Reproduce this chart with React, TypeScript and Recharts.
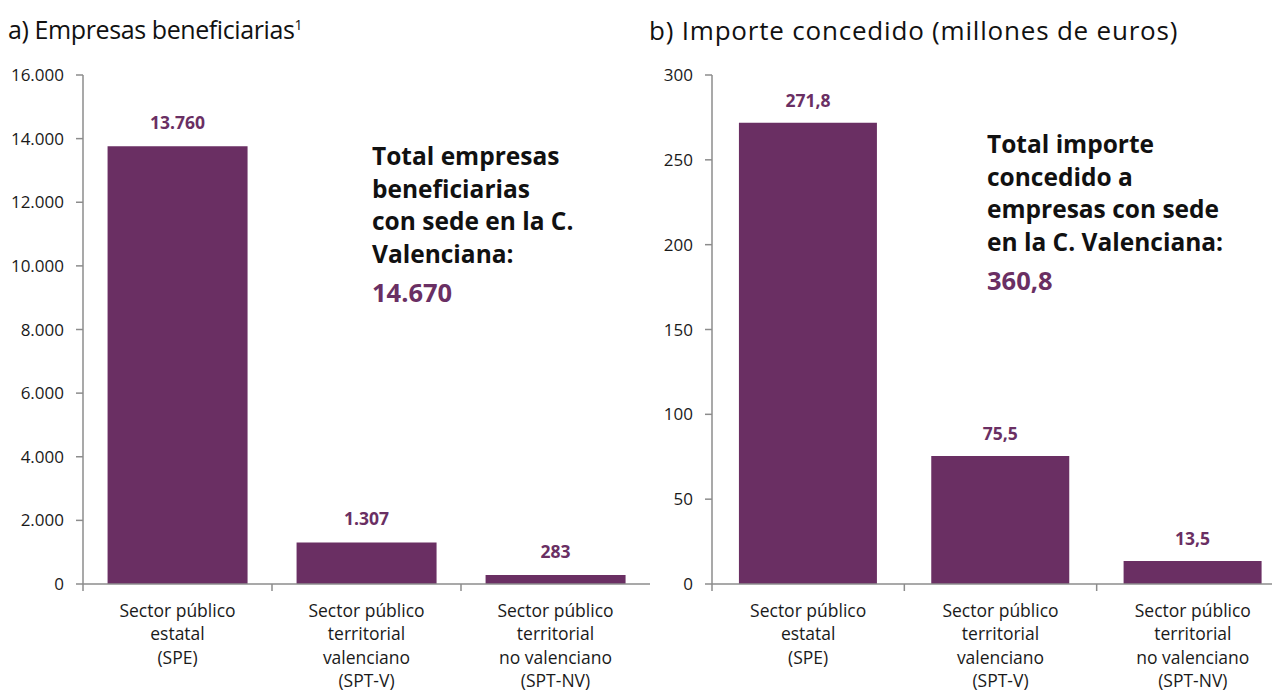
import React from 'react';
import { BarChart, Bar, XAxis, YAxis, LabelList } from 'recharts';

const categories = ['SPE', 'SPT-V', 'SPT-NV'];
const categoryLines = [
    ['Sector público', 'estatal', '(SPE)'],
    ['Sector público', 'territorial', 'valenciano', '(SPT-V)'],
    ['Sector público', 'territorial', 'no valenciano', '(SPT-NV)'],
];
const empresas = [13760, 1307, 283];
const importe = [271.8, 75.5, 13.5];
const empresasTicks = [0, 2000, 4000, 6000, 8000, 10000, 12000, 14000, 16000];
const importeTicks = [0, 50, 100, 150, 200, 250, 300];

const PURPLE = '#6a2f63';
const AXIS = '#8c8c8c';
const FONT = '"Open Sans", "Noto Sans", sans-serif';

// separador de miles con punto, decimales con coma
const fmt = (v: number) => {
    const [ent, dec] = String(v).split('.');
    const e = ent.replace(/\B(?=(\d{3})+(?!\d))/g, '.');
    return dec ? `${e},${dec}` : e;
};

const CategoryTick = (bw: number) => (props: any) => {
    const { x, y, payload, index } = props;
    const lines = categoryLines[index] ?? [String(payload.value)];
    const left = x - bw / 2;
    return (
        <g>
            <line x1={left} y1={y - 8} x2={left} y2={y - 1} stroke={AXIS} strokeWidth={1.5} />
            <text x={x} y={y + 25} textAnchor="middle" fontSize={17.5} fill="#1a1a1a" fontFamily={FONT}>
                {lines.map((l, i) => (
                    <tspan key={i} x={x} dy={i === 0 ? 0 : 23.4}>{l}</tspan>
                ))}
            </text>
        </g>
    );
};

interface PanelProps {
    values: number[];
    ticks: number[];
    width: number;
    yw: number;
    gap: string;
    labelOffset: number;
}

function Panel({ values, ticks, width, yw, gap, labelOffset }: PanelProps) {
    const data = categories.map((c, i) => ({ cat: c, value: values[i] }));
    const bw = (width - yw) / categories.length;
    return (
        <BarChart
            width={width}
            height={694}
            data={data}
            margin={{ top: 75, right: 0, left: 0, bottom: 0 }}
            barCategoryGap={gap}
        >
            <YAxis
                width={yw}
                domain={[ticks[0], ticks[ticks.length - 1]]}
                ticks={ticks}
                interval={0}
                tickFormatter={fmt}
                axisLine={{ stroke: AXIS, strokeWidth: 1.5 }}
                tickLine={{ stroke: AXIS, strokeWidth: 1.5 }}
                tickSize={7}
                dx={-10}
                tick={{ fontSize: 17, fill: '#1a1a1a', fontFamily: FONT }}
            />
            <XAxis
                dataKey="cat"
                height={110}
                interval={0}
                axisLine={{ stroke: AXIS, strokeWidth: 1.5 }}
                tickLine={false}
                tick={CategoryTick(bw)}
            />
            <Bar dataKey="value" fill={PURPLE} isAnimationActive={false}>
                <LabelList
                    dataKey="value"
                    position="top"
                    offset={labelOffset}
                    formatter={(v: any) => fmt(Number(v))}
                    style={{ fontSize: 17.5, fontWeight: 700, fill: PURPLE, fontFamily: FONT }}
                />
            </Bar>
        </BarChart>
    );
}

const titleStyle: React.CSSProperties = {
    position: 'absolute',
    top: 12,
    fontFamily: FONT,
    color: '#111',
    whiteSpace: 'nowrap',
};

const noteStyle: React.CSSProperties = {
    position: 'absolute',
    fontWeight: 700,
    lineHeight: '32.6px',
    fontFamily: FONT,
    color: '#111',
    whiteSpace: 'nowrap',
};

const totalStyle: React.CSSProperties = {
    display: 'block',
    color: PURPLE,
    fontSize: 25.5,
    paddingTop: 6,
};

export default function App() {
    return (
        <div
            style={{
                position: 'absolute',
                left: 0,
                top: 0,
                width: 1272,
                height: 694,
                overflow: 'hidden',
                background: '#fff',
            }}
        >
            <div style={{ position: 'absolute', left: 0, top: 0 }}>
                <Panel values={empresas} ticks={empresasTicks} width={650} yw={83} gap="13%" labelOffset={17} />
            </div>
            <div style={{ position: 'absolute', left: 627, top: 0 }}>
                <Panel values={importe} ticks={importeTicks} width={662} yw={85} gap="14%" labelOffset={16} />
            </div>

            <div style={{ ...titleStyle, left: 8, fontSize: 25, letterSpacing: -0.4 }}>
                a) Empresas beneficiarias<sup style={{ fontSize: 14 }}>1</sup>
            </div>
            <div style={{ ...titleStyle, left: 649, fontSize: 26, letterSpacing: 0.8 }}>
                b) Importe concedido (millones de euros)
            </div>

            <div style={{ ...noteStyle, left: 372, top: 140, fontSize: 24.5 }}>
                Total empresas<br />beneficiarias<br />con sede en la C.<br />Valenciana:<br />
                <span style={totalStyle}>14.670</span>
            </div>
            <div style={{ ...noteStyle, left: 987, top: 128, fontSize: 24.5 }}>
                Total importe<br />concedido a<br />empresas con sede<br />en la C. Valenciana:<br />
                <span style={totalStyle}>360,8</span>
            </div>
        </div>
    );
}
